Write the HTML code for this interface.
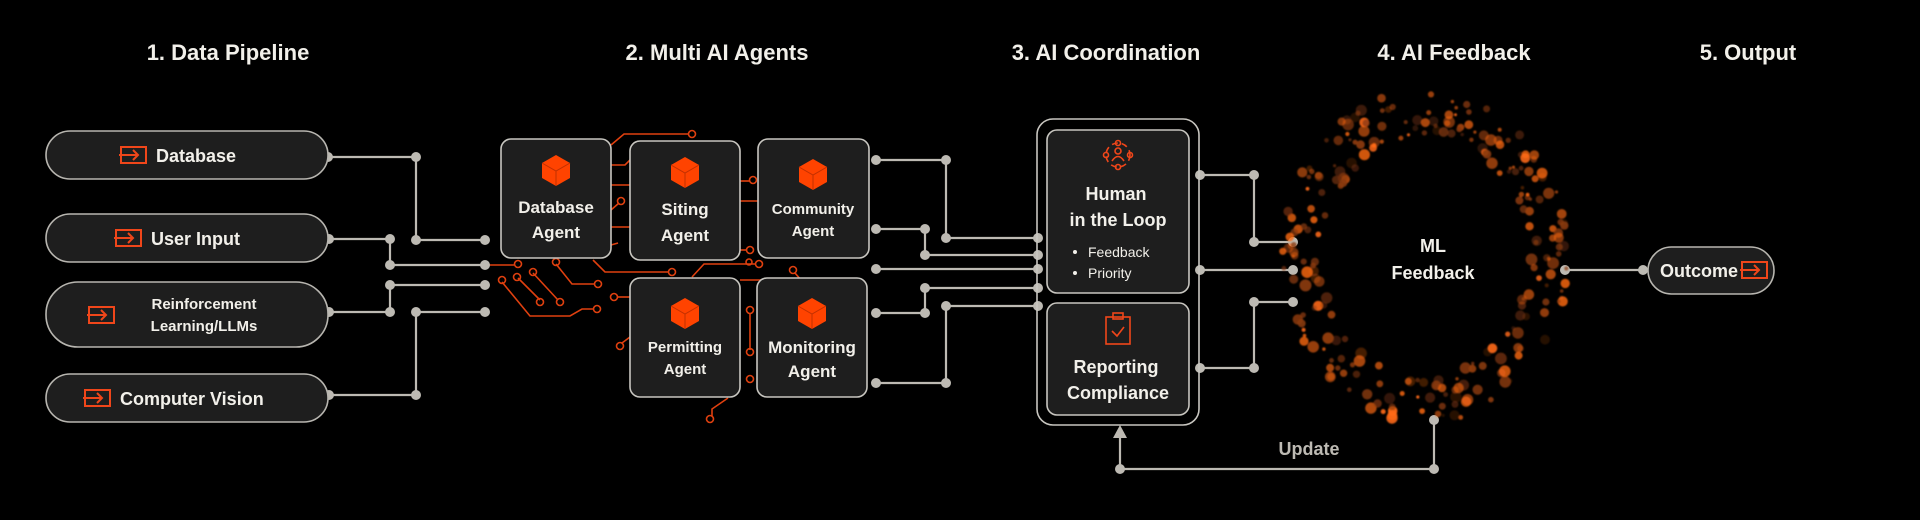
<!DOCTYPE html>
<html><head><meta charset="utf-8"><style>
html,body{margin:0;padding:0;background:#000;width:1920px;height:520px;overflow:hidden}
svg{display:block}
text{font-family:"Liberation Sans",sans-serif;font-weight:bold;fill:#f2f0ea}
</style></head><body>
<svg id="s" width="1920" height="520" viewBox="0 0 1920 520" xmlns="http://www.w3.org/2000/svg">
<defs>
<g id="ico"><rect x="0" y="0" width="25" height="16" fill="none" stroke="#f0461a" stroke-width="2"/><path d="M-2 8 H17 M12 3 L17 8 L12 13" fill="none" stroke="#f0461a" stroke-width="2"/></g>
<g id="cube"><path d="M0 -15 L14 -7 L14 8 L0 16 L-14 8 L-14 -7Z" fill="#ff4300"/><path d="M-14 -7 L0 1 L14 -7 M0 1 V16" fill="none" stroke="#c23000" stroke-width="1"/></g>
<filter id="bl"><feGaussianBlur stdDeviation="0.8"/></filter>
</defs>
<g font-size="22" text-anchor="middle">
<text x="228" y="60">1. Data Pipeline</text>
<text x="717" y="60">2. Multi AI Agents</text>
<text x="1106" y="60">3. AI Coordination</text>
<text x="1454" y="60">4. AI Feedback</text>
<text x="1748" y="60">5. Output</text>
</g>
<g fill="none" stroke="#e0400f" stroke-width="1.6">
<path d="M611 145 L624 134 H689"/><circle cx="692" cy="134" r="3.5"/>
<path d="M611 165 H625 L632 158"/>
<path d="M611 185 H630"/>
<path d="M611 210 L619 203"/><circle cx="621" cy="201" r="3.5"/>
<path d="M611 227 H630"/>
<path d="M611 245 L618 243"/>
<path d="M485 265 H514"/><circle cx="518" cy="264" r="3.5"/>
<path d="M556 264 L572 284 H594"/><circle cx="556" cy="262" r="3.5"/><circle cx="598" cy="284" r="3.5"/>
<path d="M593 260 L605 272 H668"/><circle cx="672" cy="272" r="3.5"/>
<path d="M502 282 L530 316 H570 L582 309 H594"/><circle cx="502" cy="280" r="3.5"/><circle cx="597" cy="309" r="3.5"/>
<path d="M518 278 L540 300"/><circle cx="517" cy="277" r="3.5"/><circle cx="540" cy="302" r="3.5"/>
<path d="M533 273 L558 300"/><circle cx="533" cy="272" r="3.5"/><circle cx="560" cy="302" r="3.5"/>
<path d="M692 277 L704 264 H755"/><circle cx="759" cy="264" r="3.5"/>
<path d="M740 181 H750"/><circle cx="753" cy="180" r="3.5"/>
<path d="M740 201 H758"/>
<path d="M740 250 H746"/><circle cx="750" cy="250" r="3.5"/>
<path d="M750 313 V350"/><circle cx="750" cy="310" r="3.5"/><circle cx="750" cy="352" r="3.5"/>
<circle cx="750" cy="379" r="3.5"/>
<path d="M728 398 L712 409 V416"/><circle cx="710" cy="419" r="3.5"/>
<path d="M630 337 L622 343"/><circle cx="620" cy="346" r="3.5"/>
<path d="M617 297 H630"/><circle cx="614" cy="297" r="3.5"/>
<path d="M740 280 H800"/>
<circle cx="793" cy="270" r="3.5"/><path d="M795 273 L801 280"/>
<circle cx="749" cy="262" r="3"/>
</g>
<g fill="none" stroke="#bdbab3" stroke-width="2.2">
<path d="M328 157 H416 V240 H485"/>
<path d="M329 239 H390 V265 H485"/>
<path d="M329 312 H390 V285 H485"/>
<path d="M329 395 H416 V312 H485"/>
<path d="M876 160 H946 V238 H1038"/>
<path d="M876 229 H925 V255 H1038"/>
<path d="M876 269 H1038"/>
<path d="M876 313 H925 V288 H1038"/>
<path d="M876 383 H946 V306 H1038"/>
<path d="M1200 175 H1254 V242 H1293"/>
<path d="M1200 270 H1293"/>
<path d="M1200 368 H1254 V302 H1293"/>
<path d="M1565 270 H1645"/>
<path d="M1434 420 V469 H1120 V436"/>
</g>
<path d="M1113 438 L1120 425 L1127 438Z" fill="#bdbab3"/>
<g fill="#bdbab3">
<circle cx="328" cy="157" r="5"/><circle cx="416" cy="157" r="5"/><circle cx="416" cy="240" r="5"/><circle cx="485" cy="240" r="5"/>
<circle cx="329" cy="239" r="5"/><circle cx="390" cy="239" r="5"/><circle cx="390" cy="265" r="5"/><circle cx="485" cy="265" r="5"/>
<circle cx="329" cy="312" r="5"/><circle cx="390" cy="312" r="5"/><circle cx="390" cy="285" r="5"/><circle cx="485" cy="285" r="5"/>
<circle cx="329" cy="395" r="5"/><circle cx="416" cy="395" r="5"/><circle cx="416" cy="312" r="5"/><circle cx="485" cy="312" r="5"/>
<circle cx="876" cy="160" r="5"/><circle cx="946" cy="160" r="5"/><circle cx="946" cy="238" r="5"/>
<circle cx="876" cy="229" r="5"/><circle cx="925" cy="229" r="5"/><circle cx="925" cy="255" r="5"/>
<circle cx="876" cy="269" r="5"/>
<circle cx="876" cy="313" r="5"/><circle cx="925" cy="313" r="5"/><circle cx="925" cy="288" r="5"/>
<circle cx="876" cy="383" r="5"/><circle cx="946" cy="383" r="5"/><circle cx="946" cy="306" r="5"/>
<circle cx="1038" cy="238" r="5"/><circle cx="1038" cy="255" r="5"/><circle cx="1038" cy="269" r="5"/><circle cx="1038" cy="288" r="5"/><circle cx="1038" cy="306" r="5"/>
<circle cx="1200" cy="175" r="5"/><circle cx="1254" cy="175" r="5"/><circle cx="1254" cy="242" r="5"/><circle cx="1293" cy="242" r="5"/>
<circle cx="1200" cy="270" r="5"/><circle cx="1293" cy="270" r="5"/>
<circle cx="1200" cy="368" r="5"/><circle cx="1254" cy="368" r="5"/><circle cx="1254" cy="302" r="5"/><circle cx="1293" cy="302" r="5"/>
<circle cx="1565" cy="270" r="5"/><circle cx="1643" cy="270" r="5"/>
<circle cx="1434" cy="420" r="5"/><circle cx="1434" cy="469" r="5"/><circle cx="1120" cy="469" r="5"/>
</g>
<text x="1309" y="455" font-size="18" text-anchor="middle" style="fill:#bdbab3">Update</text>
<g fill="#1e1e1e" stroke="#b8b6b0" stroke-width="1.6">
<rect x="46" y="131" width="282" height="48" rx="24"/>
<rect x="46" y="214" width="282" height="48" rx="24"/>
<rect x="46" y="282" width="282" height="65" rx="32"/>
<rect x="46" y="374" width="282" height="48" rx="24"/>
<rect x="1648" y="247" width="126" height="47" rx="23.5"/>
</g>
<use href="#ico" x="121" y="147"/><text x="156" y="162" font-size="18">Database</text>
<use href="#ico" x="116" y="230"/><text x="151" y="245" font-size="18">User Input</text>
<use href="#ico" x="89" y="307"/><text x="204" y="309" font-size="15" text-anchor="middle">Reinforcement</text><text x="204" y="331" font-size="15" text-anchor="middle">Learning/LLMs</text>
<use href="#ico" x="85" y="390"/><text x="120" y="405" font-size="18">Computer Vision</text>
<text x="1660" y="277" font-size="18">Outcome</text><use href="#ico" x="1742" y="262"/>
<g fill="#1e1e1e" stroke="#c8c6c0" stroke-width="1.6">
<rect x="501" y="139" width="110" height="119" rx="10"/>
<rect x="630" y="141" width="110" height="119" rx="10"/>
<rect x="758" y="139" width="111" height="119" rx="10"/>
<rect x="630" y="278" width="110" height="119" rx="10"/>
<rect x="757" y="278" width="110" height="119" rx="10"/>
</g>
<use href="#cube" x="556" y="170"/><use href="#cube" x="685" y="172"/><use href="#cube" x="813" y="174"/>
<use href="#cube" x="685" y="313"/><use href="#cube" x="812" y="313"/>
<g text-anchor="middle">
<text x="556" y="213" font-size="17">Database</text><text x="556" y="238" font-size="17">Agent</text>
<text x="685" y="215" font-size="17">Siting</text><text x="685" y="241" font-size="17">Agent</text>
<text x="813" y="214" font-size="15">Community</text><text x="813" y="236" font-size="15">Agent</text>
<text x="685" y="352" font-size="15">Permitting</text><text x="685" y="374" font-size="15">Agent</text>
<text x="812" y="353" font-size="17">Monitoring</text><text x="812" y="377" font-size="17">Agent</text>
</g>
<rect x="1037" y="119" width="162" height="306" rx="16" fill="none" stroke="#c8c6c0" stroke-width="1.6"/>
<rect x="1047" y="130" width="142" height="163" rx="10" fill="#1e1e1e" stroke="#c8c6c0" stroke-width="1.6"/>
<rect x="1047" y="303" width="142" height="112" rx="10" fill="#1e1e1e" stroke="#c8c6c0" stroke-width="1.6"/>
<g fill="none" stroke="#f0461a" stroke-width="1.6">
<circle cx="1118" cy="155" r="12" stroke-dasharray="6 4"/>
<circle cx="1118" cy="143" r="2.5"/><circle cx="1106" cy="155" r="2.5"/><circle cx="1130" cy="155" r="2.5"/><circle cx="1118" cy="167" r="2.5"/>
<circle cx="1118" cy="151" r="3"/><path d="M1112 161 Q1118 152 1124 161"/>
<rect x="1106" y="317" width="24" height="27"/><rect x="1113" y="313" width="10" height="6"/><path d="M1112 331 L1117 336 L1124 327"/>
</g>
<g text-anchor="middle">
<text x="1116" y="200" font-size="18">Human</text><text x="1118" y="226" font-size="18">in the Loop</text>
<text x="1116" y="373" font-size="18">Reporting</text><text x="1118" y="399" font-size="18">Compliance</text>
</g>
<circle cx="1075" cy="252" r="2" fill="#f2f0ea"/><text x="1088" y="257" font-size="14" style="font-weight:normal">Feedback</text>
<circle cx="1075" cy="273" r="2" fill="#f2f0ea"/><text x="1088" y="278" font-size="14" style="font-weight:normal">Priority</text>
<g id="ring" filter="url(#bl)"></g>
<text x="1433" y="252" font-size="18" text-anchor="middle">ML</text>
<text x="1433" y="279" font-size="18" text-anchor="middle">Feedback</text>
</svg>
<script>
(function(){var g=document.getElementById('ring');var s=12345;function r(){s=(s*1103515245+12345)%2147483648;return s/2147483648;}
var h='';for(var i=0;i<260;i++){var a=r()*Math.PI*2;var d=0.8+r()*0.32;var x=1425+Math.cos(a)*128*d;var y=256+Math.sin(a)*150*d;var rad=1.5+r()*4.5;var op=0.25+r()*0.7;var c=r()<0.55?'#ff6a14':'#8a3a12';h+='<circle cx="'+x.toFixed(1)+'" cy="'+y.toFixed(1)+'" r="'+rad.toFixed(1)+'" fill="'+c+'" opacity="'+op.toFixed(2)+'"/>';}
g.innerHTML=h;})();
</script>
</body></html>
